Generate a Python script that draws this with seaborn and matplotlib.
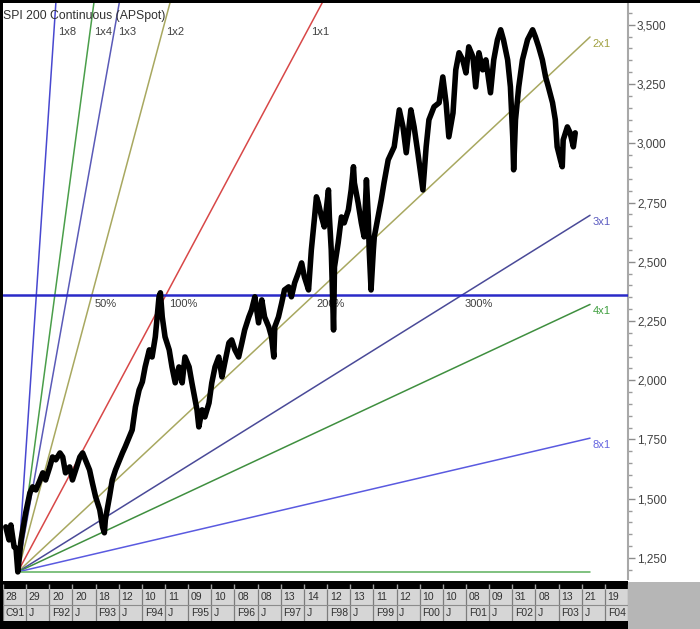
import numpy as np
import pandas as pd
import seaborn as sns
import matplotlib
matplotlib.use("Agg")
import matplotlib.pyplot as plt
from matplotlib.patches import Rectangle
from matplotlib.ticker import MultipleLocator, FuncFormatter

sns.set_theme(style="white")
plt.rcParams['font.family'] = ['Liberation Sans', 'DejaVu Sans']

# SPI 200 continuous (decimal year, index level)
years = [1991.06, 1991.13, 1991.17, 1991.24, 1991.28, 1991.32, 1991.39, 1991.49, 1991.58, 1991.64,
         1991.71, 1991.80, 1991.86, 1991.92, 1992.01, 1992.07, 1992.14, 1992.23, 1992.29, 1992.35,
         1992.44, 1992.50, 1992.57, 1992.66, 1992.72, 1992.78, 1992.87, 1992.93, 1993.00, 1993.09,
         1993.15, 1993.19, 1993.21, 1993.30, 1993.36, 1993.43, 1993.52, 1993.58, 1993.64, 1993.73,
         1993.79, 1993.86, 1993.94, 1994.01, 1994.07, 1994.16, 1994.22, 1994.29, 1994.37, 1994.40,
         1994.44, 1994.50, 1994.59, 1994.65, 1994.72, 1994.80, 1994.87, 1994.93, 1995.02, 1995.08,
         1995.19, 1995.23, 1995.30, 1995.36, 1995.45, 1995.51, 1995.58, 1995.66, 1995.73, 1995.79,
         1995.88, 1995.94, 1996.01, 1996.09, 1996.16, 1996.22, 1996.31, 1996.37, 1996.44, 1996.52,
         1996.59, 1996.65, 1996.74, 1996.80, 1996.85, 1996.87, 1996.95, 1997.02, 1997.08, 1997.17,
         1997.23, 1997.30, 1997.38, 1997.45, 1997.51, 1997.60, 1997.66, 1997.73, 1997.77, 1997.81,
         1997.88, 1997.94, 1998.03, 1998.05, 1998.09, 1998.14, 1998.16, 1998.24, 1998.31, 1998.37,
         1998.46, 1998.52, 1998.57, 1998.59, 1998.67, 1998.74, 1998.80, 1998.85, 1998.89, 1998.91,
         1998.95, 1999.00, 1999.02, 1999.10, 1999.17, 1999.23, 1999.32, 1999.45, 1999.56, 1999.64,
         1999.71, 1999.81, 1999.88, 1999.96, 2000.07, 2000.14, 2000.20, 2000.31, 2000.42, 2000.50,
         2000.57, 2000.63, 2000.72, 2000.78, 2000.85, 2000.93, 2001.00, 2001.06, 2001.15, 2001.21,
         2001.28, 2001.36, 2001.43, 2001.53, 2001.60, 2001.68, 2001.75, 2001.81, 2001.90, 2001.96,
         2002.01, 2002.03, 2002.07, 2002.14, 2002.22, 2002.33, 2002.44, 2002.50, 2002.57, 2002.65,
         2002.72, 2002.78, 2002.87, 2002.93, 2002.97, 2003.04, 2003.08, 2003.10, 2003.19, 2003.25,
         2003.32, 2003.36]
prices = [1381, 1326, 1389, 1296, 1292, 1191, 1326, 1440, 1524, 1550,
          1537, 1579, 1609, 1579, 1634, 1676, 1664, 1693, 1676, 1609,
          1634, 1579, 1621, 1676, 1693, 1664, 1621, 1567, 1508, 1453,
          1381, 1356, 1410, 1508, 1579, 1621, 1664, 1693, 1719, 1761,
          1790, 1887, 1959, 1993, 2056, 2128, 2098, 2183, 2352, 2369,
          2267, 2183, 2128, 2056, 1989, 2056, 1989, 2098, 2056, 1989,
          1875, 1803, 1875, 1845, 1904, 1989, 2056, 2098, 2014, 2073,
          2158, 2170, 2128, 2098, 2158, 2212, 2267, 2297, 2352, 2242,
          2339, 2267, 2225, 2183, 2098, 2225, 2267, 2326, 2381, 2394,
          2352, 2411, 2453, 2495, 2436, 2381, 2550, 2689, 2774, 2749,
          2689, 2647, 2803, 2689, 2550, 2212, 2478, 2580, 2689, 2664,
          2719, 2803, 2901, 2833, 2749, 2664, 2605, 2846, 2689, 2550,
          2381, 2550, 2605, 2689, 2761, 2833, 2930, 2985, 3141, 3069,
          2960, 3141, 3069, 2960, 2803, 2985, 3099, 3154, 3171, 3280,
          3171, 3027, 3128, 3310, 3382, 3352, 3297, 3407, 3365, 3238,
          3382, 3310, 3352, 3213, 3352, 3437, 3479, 3437, 3352, 3238,
          3027, 2888, 3099, 3238, 3352, 3437, 3479, 3449, 3407, 3352,
          3280, 3238, 3171, 3099, 2985, 2930, 2901, 3014, 3069, 3044,
          2985, 3044]

# Gann fan: 1991 low and the 1994 high define the square
fan_origin = (1991.32, 1191)
fan_square = (1994.52, 2360)
fan_end = 2003.68
fan_names = ["1x8", "1x4", "1x3", "1x2", "1x1", "2x1", "3x1", "4x1", "8x1"]
fan_ratios = [8, 4, 3, 2, 1, 1 / 2, 1 / 3, 1 / 4, 1 / 8]
fan_colors = ["#4848d0", "#4a9e4a", "#5a5ab8", "#a8a860", "#d84848",
              "#a8a860", "#4a4a98", "#3f8f3f", "#5a5ae0"]
label_colors = {"2x1": "#a0a040", "3x1": "#5a5ac0", "4x1": "#3f9f3f", "8x1": "#6464e0"}
pct_labels = ["50%", "100%", "200%", "300%"]
pct_steps = [0.5, 1, 2, 3]

day_labels = ["28", "29", "20", "20", "18", "12", "10", "11", "09", "10", "08", "08", "13", "14",
              "12", "13", "11", "12", "10", "10", "08", "09", "31", "08", "13", "21", "19"]
month_labels = ["C91", "J", "F92", "J", "F93", "J", "F94", "J", "F95", "J", "F96", "J", "F97", "J",
                "F98", "J", "F99", "J", "F00", "J", "F01", "J", "F02", "J", "F03", "J", "F04"]

W, H = 700, 629
fig = plt.figure(figsize=(7, 6.29), dpi=100, facecolor="white")


def px_rect(x0, y0, x1, y1):
    # pixel box (top-left origin) -> figure fraction rect
    return [x0 / W, 1 - y1 / H, (x1 - x0) / W, (y1 - y0) / H]


ax = fig.add_axes(px_rect(3, 3, 628, 579))
ax.set_facecolor("white")

df = pd.DataFrame({"year": years, "price": prices})
sns.lineplot(data=df, x="year", y="price", ax=ax, color="black", linewidth=4.0,
             sort=False, estimator=None, zorder=5)

t0, p0 = fan_origin
t1, p1 = fan_square
slope = (p1 - p0) / (t1 - t0)
xmin, xmax = 1991.0, 2004.5
ymin, ymax = 1161, 3592

for name, r, c in zip(fan_names, fan_ratios, fan_colors):
    xe = fan_end
    ye = p0 + slope * r * (xe - t0)
    ax.plot([t0, xe], [p0, ye], color=c, lw=1.1, zorder=3)
    if r > 1 or name == "1x1":
        lv = 3470
        xl = t0 + (lv - p0) / (slope * r)
        ax.annotate(name, (xl, lv), xytext=(3, 0), textcoords="offset points",
                    ha="left", va="center", fontsize=8, color="#404040")
    else:
        ax.annotate(name, (xe, ye), xytext=(2, -5), textcoords="offset points",
                    ha="left", va="center", fontsize=8, color=label_colors[name])

# horizontal base line and the 1994 high level
ax.plot([t0, fan_end], [p0, p0], color="#5cb05c", lw=1.1, zorder=3)
ax.axhline(p1, color="#2a2ac8", lw=1.8, zorder=4)
for lab, k in zip(pct_labels, pct_steps):
    ax.annotate(lab, (t0 + k * (t1 - t0), p1), xytext=(2, -3), textcoords="offset points",
                ha="left", va="top", fontsize=8, color="#404040")

ax.text(0.0, 0.978, "SPI 200 Continuous (APSpot)", transform=ax.transAxes,
        ha="left", va="center", fontsize=8.8, color="#303030")

ax.set_xlim(xmin, xmax)
ax.set_ylim(ymin, ymax)
ax.set_xlabel("")
ax.set_ylabel("")
ax.set_xticks([])
ax.yaxis.tick_right()
ax.yaxis.set_major_locator(MultipleLocator(250))
ax.yaxis.set_minor_locator(MultipleLocator(50))
ax.yaxis.set_major_formatter(FuncFormatter(lambda v, p: f"{v:,.0f}"))
ax.tick_params(axis="y", which="major", right=True, length=5, width=1, color="#8c8c8c",
               labelsize=8.5, labelcolor="#404040", pad=1.5)
ax.tick_params(axis="y", which="minor", right=True, length=3, width=1, color="#9c9c9c")
for s in ["top", "left", "bottom"]:
    ax.spines[s].set_visible(False)
ax.spines["right"].set_color("#a8a8a8")
ax.spines["right"].set_linewidth(1.5)

# date strip under the chart
ax2 = fig.add_axes(px_rect(3, 581, 628, 621))
ax2.set_xlim(xmin, xmax)
ax2.set_ylim(0, 40)
ax2.set_facecolor("#d6d6d6")
ax2.axhspan(32, 40, color="black", lw=0)
bounds = [xmin + 0.5 * i for i in range(len(day_labels) + 1)]
ax2.vlines(bounds, 0, 32, color="#7c7c7c", lw=0.9)
ax2.vlines(bounds, 32, 37, color="#a0a0a0", lw=1.0)
ax2.axhline(16, color="#8c8c8c", lw=0.8)
for i, (d, m) in enumerate(zip(day_labels, month_labels)):
    ax2.text(bounds[i] + 0.06, 24, d, ha="left", va="center", fontsize=7.5, color="#303030",
             clip_on=True)
    ax2.text(bounds[i] + 0.06, 8, m, ha="left", va="center", fontsize=7.5, color="#303030",
             clip_on=True)
ax2.set_xticks([])
ax2.set_yticks([])
for s in ax2.spines.values():
    s.set_visible(False)

# frame bits of the original screenshot
fig.add_artist(Rectangle((0, 1 - 3 / H), 1, 3 / H, transform=fig.transFigure,
                         color="black", lw=0))
fig.add_artist(Rectangle((0, 0), 3 / W, 1, transform=fig.transFigure, color="black", lw=0))
fig.add_artist(Rectangle((0, 0), 628 / W, 8 / H, transform=fig.transFigure, color="black", lw=0))
fig.add_artist(Rectangle((628 / W, 0), 72 / W, 47 / H, transform=fig.transFigure,
                         color="#b6b6b6", lw=0))

fig.savefig("out.png", dpi=100)
